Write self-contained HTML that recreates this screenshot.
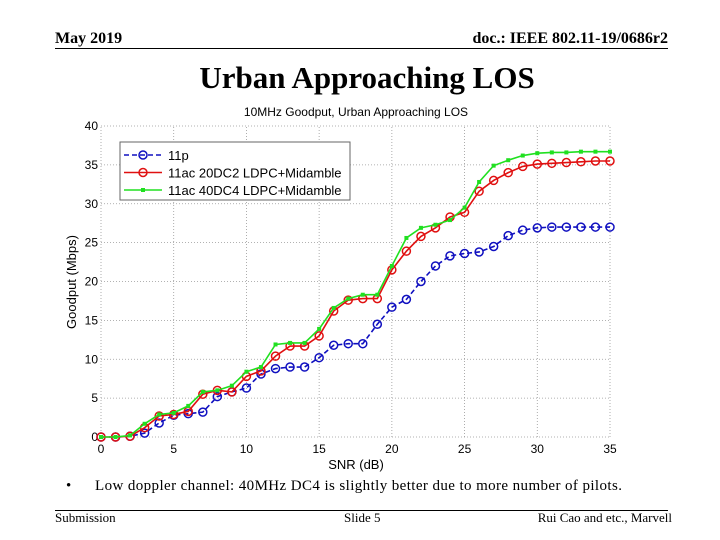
<!DOCTYPE html>
<html><head><meta charset="utf-8"><style>
body{margin:0;background:#fff}
#page{position:relative;width:720px;height:540px;overflow:hidden;background:#fff;font-family:"Liberation Serif",serif}
.abs{position:absolute;white-space:nowrap}
</style></head><body>
<div id="page">
<div class="abs" style="left:55px;top:30px;font-size:16px;font-weight:bold">May 2019</div>
<div class="abs" style="right:52px;top:30px;font-size:16px;font-weight:bold">doc.: IEEE 802.11-19/0686r2</div>
<div class="abs" style="left:55px;top:48px;width:613px;height:1px;background:#000"></div>
<div class="abs" style="left:0;width:734px;text-align:center;top:60px;font-size:31px;font-weight:bold">Urban Approaching LOS</div>
<svg class="abs" style="left:0;top:0" width="720" height="540" id="chart"></svg>
<div class="abs" style="left:66px;top:478px;font-size:15px">•</div>
<div class="abs" style="left:95px;top:478px;font-size:15px;letter-spacing:0.4px">Low doppler channel: 40MHz DC4 is slightly better due to more number of pilots.</div>
<div class="abs" style="left:55px;top:510px;width:613px;height:1px;background:#000"></div>
<div class="abs" style="left:55px;top:510px;font-size:13px">Submission</div>
<div class="abs" style="left:344px;top:510px;font-size:13px">Slide 5</div>
<div class="abs" style="right:48px;top:510px;font-size:13px">Rui Cao and etc., Marvell</div>
</div>
<script>
const snr=[0,1,2,3,4,5,6,7,8,9,10,11,12,13,14,15,16,17,18,19,20,21,22,23,24,25,26,27,28,29,30,31,32,33,34,35];
const s11p=[0,0,0.1,0.5,1.8,2.8,3,3.2,5.2,5.8,6.3,8.1,8.8,9,9,10.2,11.8,12,12,14.5,16.7,17.7,20,22,23.3,23.6,23.8,24.5,25.9,26.6,26.9,27,27,27,27,27];
const s20=[0,0,0.1,1.2,2.7,2.9,3.3,5.5,6,5.8,7.8,8.5,10.4,11.7,11.7,13,16.2,17.6,17.8,17.8,21.5,23.9,25.8,26.9,28.3,28.9,31.6,33,34,34.8,35.1,35.2,35.3,35.4,35.5,35.5];
const s40=[0,0,0.2,1.7,2.9,3.1,4,5.8,6,6.6,8.4,9,11.9,12.1,12.1,13.9,16.6,17.8,18.3,18.3,22,25.6,26.9,27.3,27.9,29.5,32.8,34.9,35.6,36.2,36.5,36.6,36.6,36.7,36.7,36.7];
const xTicks=[0,5,10,15,20,25,30,35];
const yTicks=[0,5,10,15,20,25,30,35,40];
const legendLabels=["11p","11ac 20DC2 LDPC+Midamble","11ac 40DC4 LDPC+Midamble"];
const NS="http://www.w3.org/2000/svg";
const svg=document.getElementById('chart');
const X0=101,X1=610,Y0=437,Y1=126;
const xs=v=>X0+(v-0)/35*(X1-X0);
const ys=v=>Y0-(v-0)/40*(Y0-Y1);
function mk(t,a,p){const e=document.createElementNS(NS,t);for(const k in a)e.setAttribute(k,a[k]);(p||svg).appendChild(e);return e;}
const font='"Liberation Sans",sans-serif';
xTicks.forEach(t=>{
 const g=mk('line',{x1:xs(t),x2:xs(t),y1:Y0,y2:Y1,stroke:'#999','stroke-dasharray':'1,2','stroke-width':0.8});
 
 const l=mk('text',{x:xs(t),y:Y0+16,'text-anchor':'middle','font-size':12,'font-family':font});
 l.textContent=t;
});
yTicks.forEach(t=>{
 const g=mk('line',{x1:X0,x2:X1,y1:ys(t),y2:ys(t),stroke:'#999','stroke-dasharray':'1,2','stroke-width':0.8});
 
 const l=mk('text',{x:X0-3,y:ys(t)+4,'text-anchor':'end','font-size':12,'font-family':font});
 l.textContent=t;
});
const ct=mk('text',{x:356,y:116,'text-anchor':'middle','font-size':12,'font-family':font});ct.textContent='10MHz Goodput, Urban Approaching LOS';

const xt=mk('text',{x:356,y:469,'text-anchor':'middle','font-size':13,'font-family':font});xt.textContent='SNR (dB)';

const yt=mk('text',{x:76,y:282,'text-anchor':'middle','font-size':13,'font-family':font,transform:'rotate(-90 76 282)'});yt.textContent='Goodput (Mbps)';

const series=[{d:s11p,c:'#1010c0',dash:'5,3',m:'o',n:'series-11p'},{d:s20,c:'#e01010',dash:'',m:'o',n:'series-20dc2'},{d:s40,c:'#20e020',dash:'',m:'x',n:'series-40dc4'}];
[series[0],series[1],series[2]].forEach(s=>{
 const pts=snr.map((x,i)=>xs(x)+','+ys(s.d[i])).join(' ');
 const pl=mk('polyline',{points:pts,fill:'none',stroke:s.c,'stroke-width':1.6,'stroke-dasharray':s.dash});
 
 snr.forEach((x,i)=>{
  let m;
  if(s.m==='o')m=mk('circle',{cx:xs(x),cy:ys(s.d[i]),r:4,fill:'none',stroke:s.c,'stroke-width':1.5});
  else m=mk('rect',{x:xs(x)-2,y:ys(s.d[i])-2,width:4,height:4,fill:s.c});
  
 });
});
const lg=mk('g',{});
mk('rect',{x:120,y:142,width:230,height:58,fill:'#fff',stroke:'#666','stroke-width':1},lg);
series.forEach((s,i)=>{
 const y=155+i*17.5;
 mk('line',{x1:124,x2:162,y1:y,y2:y,stroke:s.c,'stroke-width':1.6,'stroke-dasharray':s.dash},lg);
 if(s.m==='o')mk('circle',{cx:143,cy:y,r:4,fill:'none',stroke:s.c,'stroke-width':1.5},lg);else mk('rect',{x:141,y:y-2,width:4,height:4,fill:s.c},lg);
 const t=mk('text',{x:168,y:y+5,'font-size':13,'font-family':font},lg);t.textContent=legendLabels[i];
 
});
</script>
</body></html>
